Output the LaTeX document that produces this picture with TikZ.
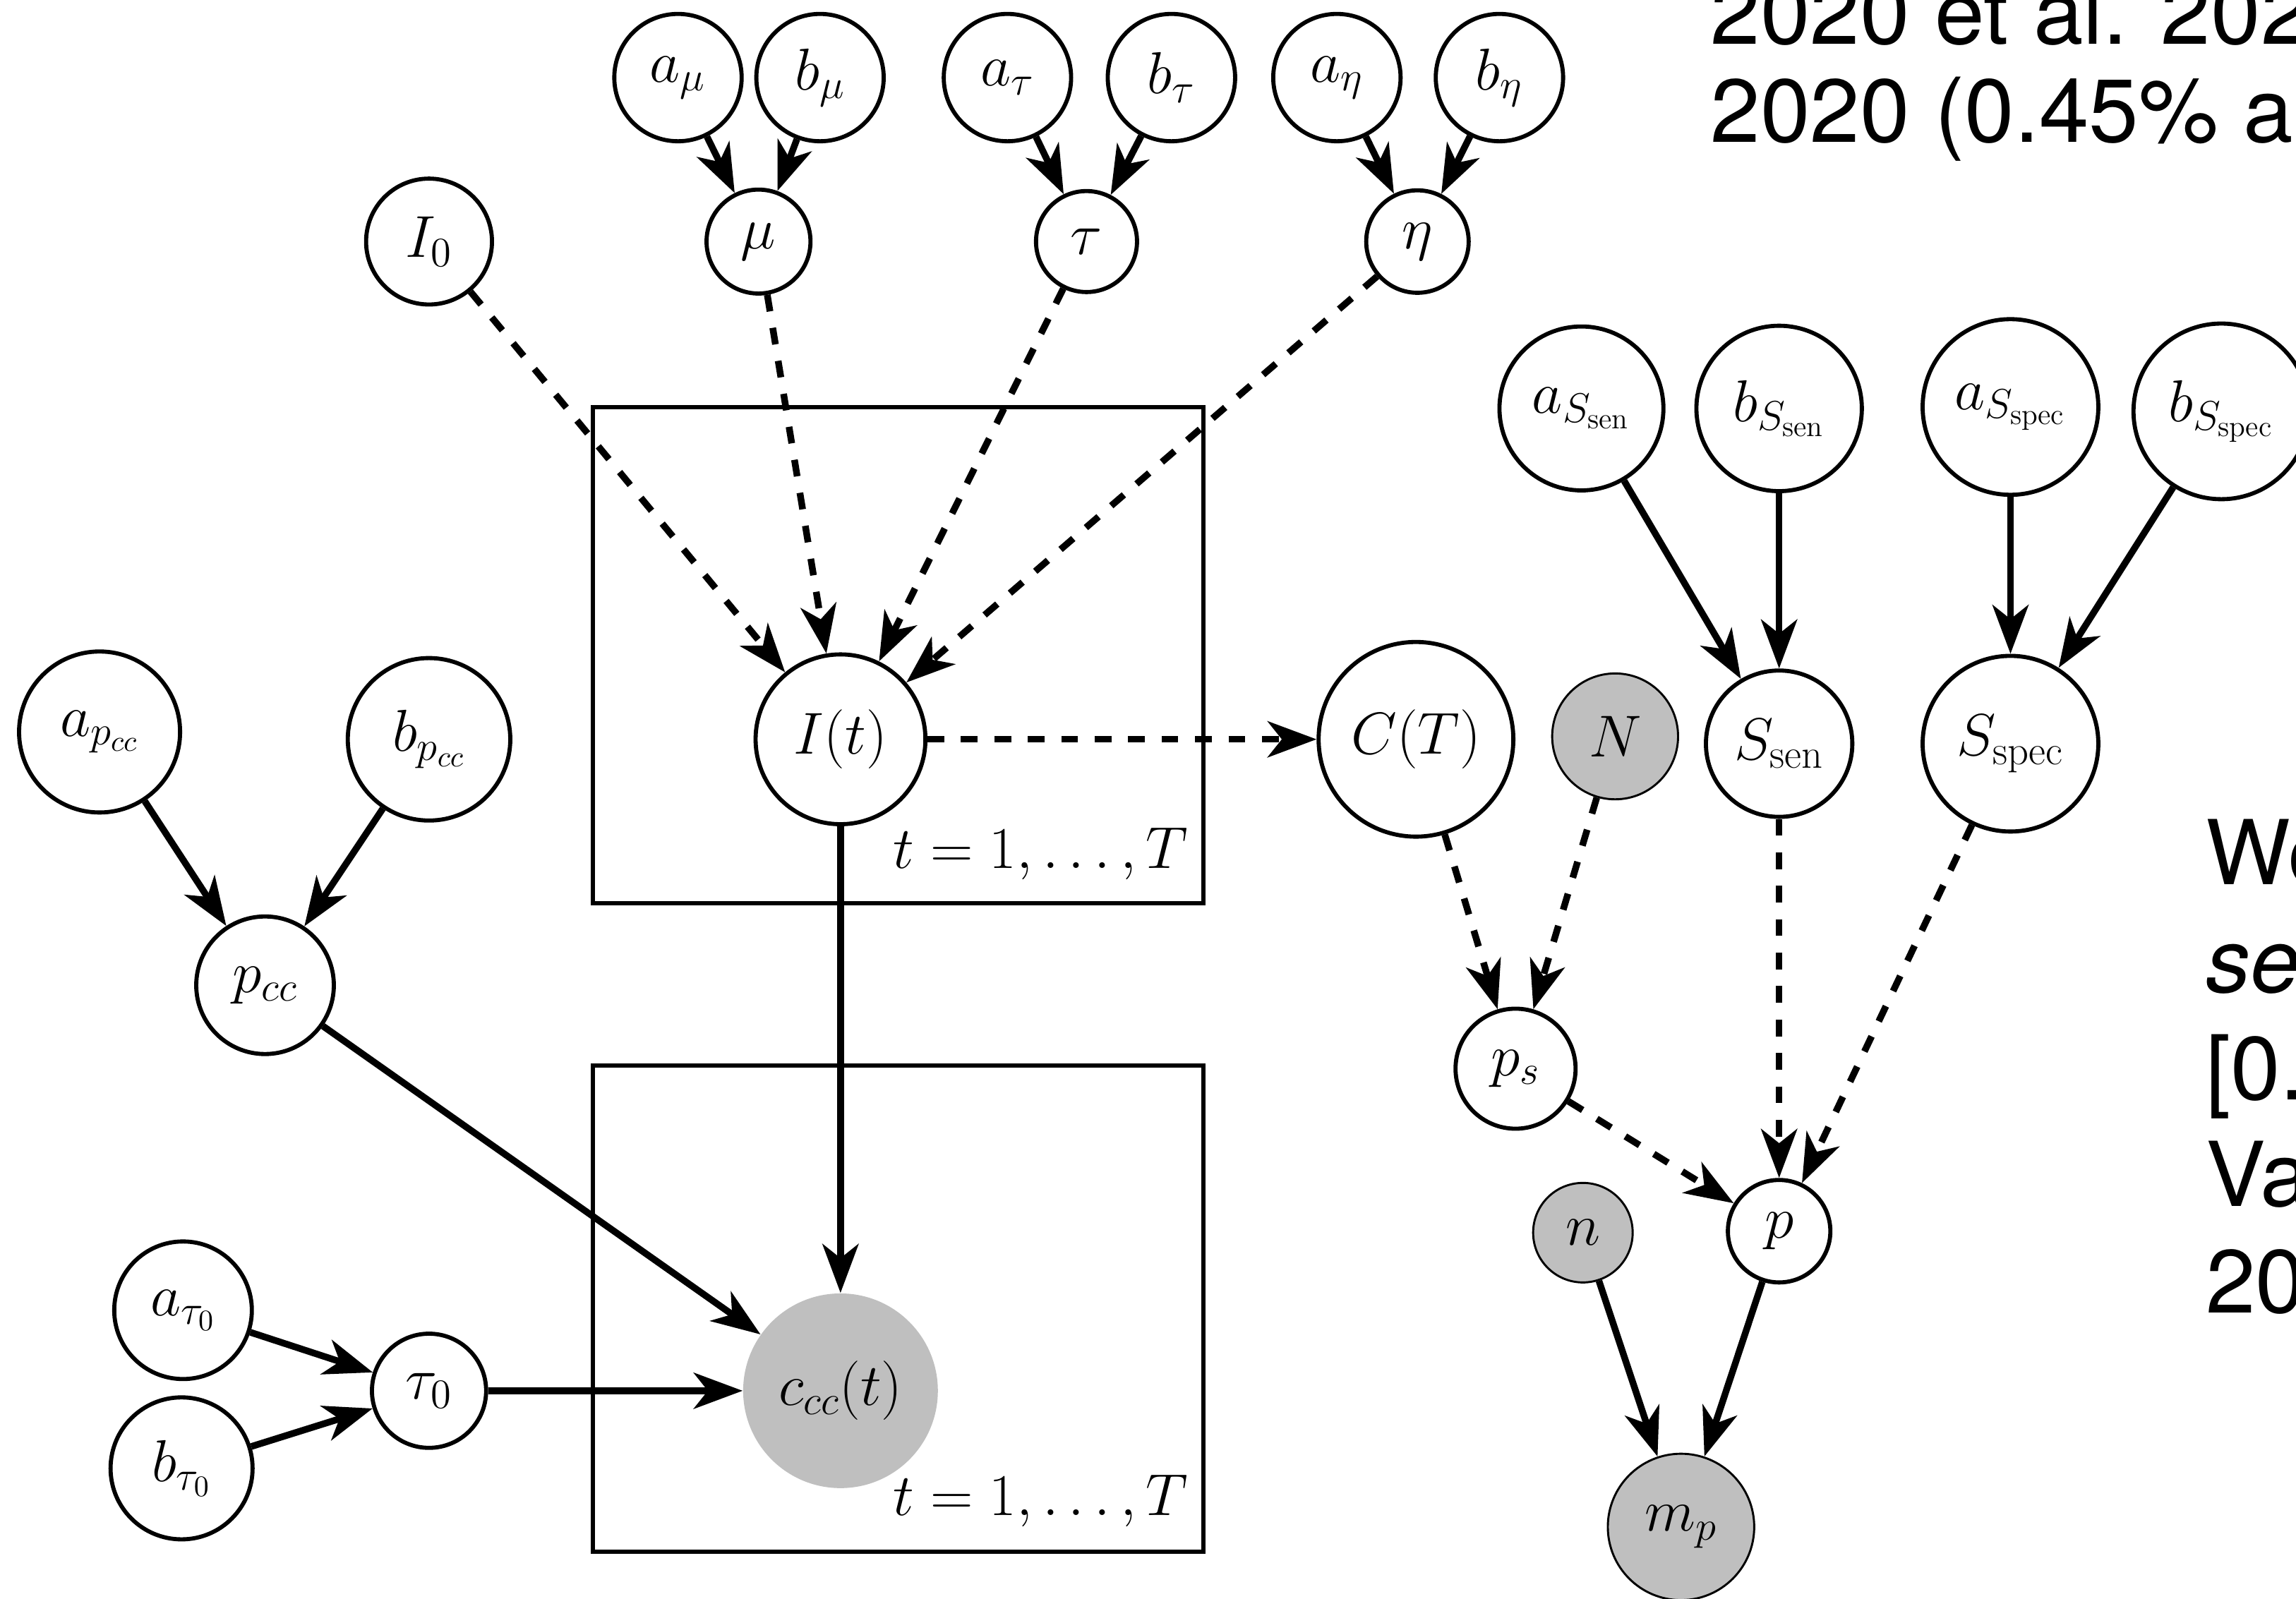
\RequirePackage{fix-cm}
\documentclass[tikz,border=0pt]{standalone}
\usepackage{fontspec}
\newfontfamily\helv{TeX Gyre Heros}
\usetikzlibrary{arrows.meta}
\definecolor{obsgray}{RGB}{191,191,191}
\begin{document}
\begin{tikzpicture}[x=0.02cm, y=-0.02cm,
  var/.style={circle, draw, line width=1.6pt, inner sep=0pt, font=\fontsize{23}{27}\selectfont},
  obs/.style={var, fill=obsgray, line width=0.8pt},
  sarr/.style={line width=2.6pt, -{Stealth[length=19pt,width=14pt,inset=5.5pt]}},
  darr/.style={sarr, dash pattern=on 6.5pt off 6.5pt},
  plate/.style={draw, line width=1.7pt},
  platelab/.style={anchor=base east, inner sep=0pt, font=\fontsize{23}{27}\selectfont},
  body/.style={anchor=base west, inner sep=0pt, font=\helv\fontsize{34.8}{41.8}\selectfont}
]
\useasboundingbox (0,0) rectangle (1568,1092);
\clip (0,0) rectangle (1568,1092);

% plates
\draw[plate] (405,278) rectangle (822,617);
\draw[plate] (405,728) rectangle (822,1060);
\node[platelab] (lab1) at (812,593) {$t=1,\ldots,T$};
\node[platelab] (lab2) at (812,1035) {$t=1,\ldots,T$};

% top hyperparameters
\node[var, minimum size=1.74cm] (amu) at (463,53) {$a_\mu$};
\node[var, minimum size=1.74cm] (bmu) at (560,53) {$b_\mu$};
\node[var, minimum size=1.74cm] (atau) at (688,53) {$a_\tau$};
\node[var, minimum size=1.74cm] (btau) at (800,53) {$b_\tau$};
\node[var, minimum size=1.74cm] (aeta) at (913,53) {$a_\eta$};
\node[var, minimum size=1.74cm] (beta) at (1024,53) {$b_\eta$};

\node[var, minimum size=1.72cm] (I0) at (293,165) {$I_0$};
\node[var, minimum size=1.42cm] (mu) at (518,165) {$\mu$};
\node[var, minimum size=1.38cm] (tau) at (742,165) {$\tau$};
\node[var, minimum size=1.40cm] (eta) at (968,165) {$\eta$};

% sensitivity / specificity
\node[var, minimum size=2.24cm] (aSsen) at (1080,279) {$a_{S_{\mathrm{sen}}}$};
\node[var, minimum size=2.26cm] (bSsen) at (1215,279) {$b_{S_{\mathrm{sen}}}$};
\node[var, minimum size=2.40cm] (aSspec) at (1373,278) {$a_{S_{\mathrm{spec}}}$};
\node[var, minimum size=2.40cm] (bSspec) at (1517,281) {$b_{S_{\mathrm{spec}}}$};

% middle row
\node[var, minimum size=2.32cm] (It) at (574,505) {$I(t)$};
\node[var, minimum size=2.66cm] (CT) at (967,505) {$C(T)$};
\node[obs, minimum size=1.72cm] (N) at (1103,503) {$N$};
\node[var, minimum size=2.00cm] (Ssen) at (1215,508) {$S_{\mathrm{sen}}$};
\node[var, minimum size=2.40cm] (Sspec) at (1373,508) {$S_{\mathrm{spec}}$};

% left
\node[var, minimum size=2.20cm] (apcc) at (68,500) {$a_{p_{cc}}$};
\node[var, minimum size=2.22cm] (bpcc) at (293,505) {$b_{p_{cc}}$};
\node[var, minimum size=1.88cm] (pcc) at (181,673) {$p_{cc}$};

% right lower
\node[var, minimum size=1.64cm] (ps) at (1035,730) {$p_s$};
\node[obs, minimum size=1.36cm] (n) at (1081,842) {$n$};
\node[var, minimum size=1.40cm] (p) at (1215,841) {$p$};
\node[obs, minimum size=2.00cm] (mp) at (1148,1043) {$m_p$};

% bottom left
\node[circle, fill=obsgray, inner sep=0pt, minimum size=2.66cm, font=\fontsize{23}{27}\selectfont] (ccc) at (574,950) {$c_{cc}(t)$};
\node[var, minimum size=1.56cm] (tau0) at (293,950) {$\tau_0$};
\node[var, minimum size=1.88cm] (atau0) at (125,895) {$a_{\tau_0}$};
\node[var, minimum size=1.94cm] (btau0) at (124,1003) {$b_{\tau_0}$};

% solid edges
\draw[sarr] (amu) -- (mu);
\draw[sarr] (bmu) -- (mu);
\draw[sarr] (atau) -- (tau);
\draw[sarr] (btau) -- (tau);
\draw[sarr] (aeta) -- (eta);
\draw[sarr] (beta) -- (eta);
\draw[sarr] (aSsen) -- (Ssen);
\draw[sarr] (bSsen) -- (Ssen);
\draw[sarr] (aSspec) -- (Sspec);
\draw[sarr] (bSspec) -- (Sspec);
\draw[sarr] (apcc) -- (pcc);
\draw[sarr] (bpcc) -- (pcc);
\draw[sarr] (pcc) -- (ccc);
\draw[sarr] (It) -- (ccc);
\draw[sarr] (atau0) -- (tau0);
\draw[sarr] (btau0) -- (tau0);
\draw[sarr] (tau0) -- (ccc);
\draw[sarr] (n) -- (mp);
\draw[sarr] (p) -- (mp);

% dashed edges
\draw[darr] (I0) -- (It);
\draw[darr] (mu) -- (It);
\draw[darr] (tau) -- (It);
\draw[darr] (eta) -- (It);
\draw[darr] (It) -- (CT);
\draw[darr] (CT) -- (ps);
\draw[darr] (N) -- (ps);
\draw[darr] (Ssen) -- (p);
\draw[darr] (Sspec) -- (p);
\draw[darr] (ps) -- (p);

% surrounding text (clipped at the picture edge)
\node[body] (t1) at (1168,30) {2020 et al. 2020};
\node[body] (t2) at (1168,97) {2020 (0.45\% a};
\node[body] (r1) at (1506,604) {We};
\node[body] (r2) at (1506,678) {\itshape se};
\node[body] (r3) at (1506,751) {[0.};
\node[body] (r4) at (1506,824) {Va};
\node[body] (r5) at (1506,897) {20};
\end{tikzpicture}
\end{document}
